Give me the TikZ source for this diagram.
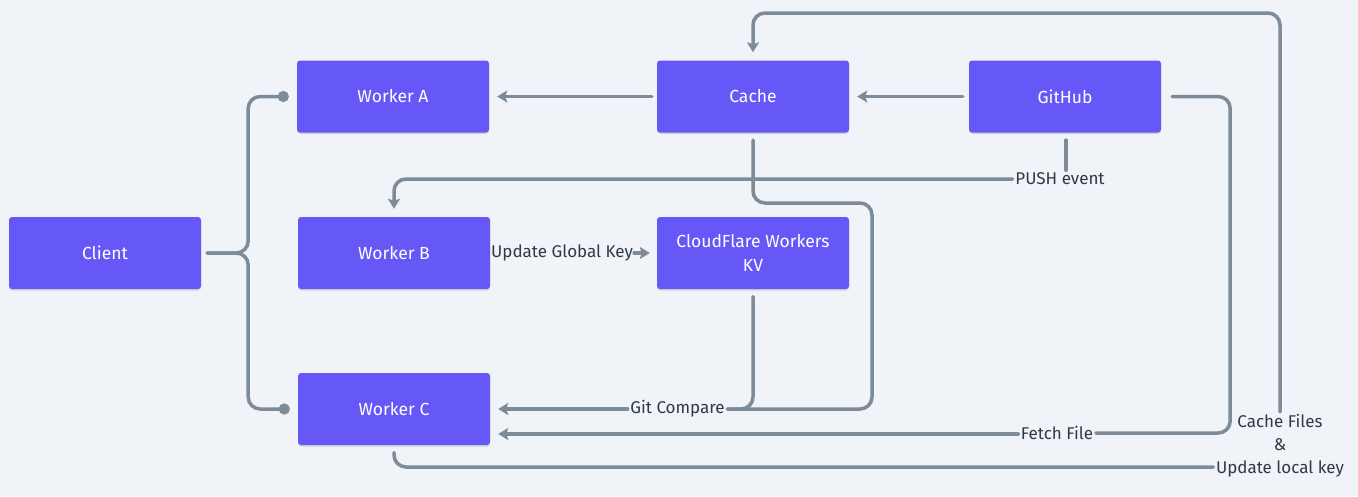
\documentclass[tikz,border=0pt]{standalone}
\usepackage{fontspec}
\setmainfont{Fira Sans}
\usetikzlibrary{arrows.meta,calc,shadows}
\definecolor{bgc}{HTML}{F0F3F7}
\definecolor{boxc}{HTML}{6658F6}
\definecolor{lnc}{HTML}{7E8B98}
\definecolor{txtc}{HTML}{2D3A47}
\begin{document}
\begin{tikzpicture}[x=1pt,y=-1pt,
  wbox/.style={rectangle, fill=boxc, rounded corners=3pt, minimum width=192pt, minimum height=72pt,
    text=white, font=\fontsize{17.5}{24}\selectfont, align=center, inner sep=0pt,
    drop shadow={shadow xshift=0pt, shadow yshift=-1.5pt, opacity=0.12, fill=black}},
  lbl/.style={text=txtc, font=\fontsize{17}{23}\selectfont, inner sep=2.5pt, align=center},
  conn/.style={draw=lnc, line width=3.5pt, rounded corners=12pt, line cap=round},
  arr/.style={-{Stealth[length=10pt,width=12pt,inset=2pt]}},
  dot/.style={-{Circle[length=11pt]}}]
\fill[bgc] (0,0) rectangle (1358,496);
\useasboundingbox (0,0) rectangle (1358,496);

\node[wbox] (wa) at (393,96.5) {Worker A};
\node[wbox] (cache) at (753,96.5) {Cache};
\node[wbox] (gh) at (1065,96.5) {GitHub};
\node[wbox] (client) at (105,253) {Client};
\node[wbox] (wb) at (394,253) {Worker B};
\node[wbox] (cf) at (753,253) {CloudFlare Workers\\KV};
\node[wbox] (wc) at (394,409) {Worker C};

\node[lbl] (lpush) at (1060,179) {PUSH event};
\node[lbl, anchor=west, inner sep=1pt] (lgk) at (490,253) {Update Global Key};
\node[lbl] (lgit) at (677.5,409) {Git Compare};
\node[lbl] (lfetch) at (1057,433) {Fetch File};
\node[lbl] (lcache) at (1280,446) {Cache Files\\\&\\Update local key};

\coordinate (ctop) at (753,13);
\coordinate (cbend) at (872,203);

% client fan-out
\draw[conn, dot, shorten <=6pt, shorten >=8pt] (client.east) -- ++(47,0) |- (wa.west);
\draw[conn, dot, shorten <=6pt, shorten >=8pt] (client.east) -- ++(47,0) |- (wc.west);

% top row
\draw[conn, arr, shorten <=5pt, shorten >=8pt] (cache.west) -- (wa.east);
\draw[conn, arr, shorten <=6pt, shorten >=8pt] (gh.west) -- (cache.east);

% push event
\draw[conn, shorten <=7.5pt] (gh.south) ++(1,0) coordinate (ghs) -- (ghs |- lpush.north);
\draw[conn, arr, shorten >=8pt] (lpush.west) -| (wb.north);

% update global key
\draw[conn, arr, shorten >=7pt] (lgk.east) -- (cf.west);

% git compare
\draw[conn, shorten <=7.5pt] (cache.south) |- (cbend) |- (lgit.east);
\draw[conn, shorten <=7.5pt] (cf.south) |- (lgit.east);
\draw[conn, arr, shorten >=8pt] (lgit.west) -- (lgit.west -| wc.east);

% fetch file
\draw[conn, shorten <=11pt] (gh.east) -- ++(69,0) |- (lfetch.east);
\draw[conn, arr, shorten >=8pt] ([yshift=-1pt]lfetch.west) -- ([yshift=-1pt]lfetch.west -| wc.east);

% cache files & update local key
\draw[conn, shorten <=7.5pt] (wc.south) |- ($(lcache.west)+(0,21)$);
\draw[conn, arr, shorten >=8pt] (lcache.north) |- (ctop) -- (cache.north);
\end{tikzpicture}
\end{document}
